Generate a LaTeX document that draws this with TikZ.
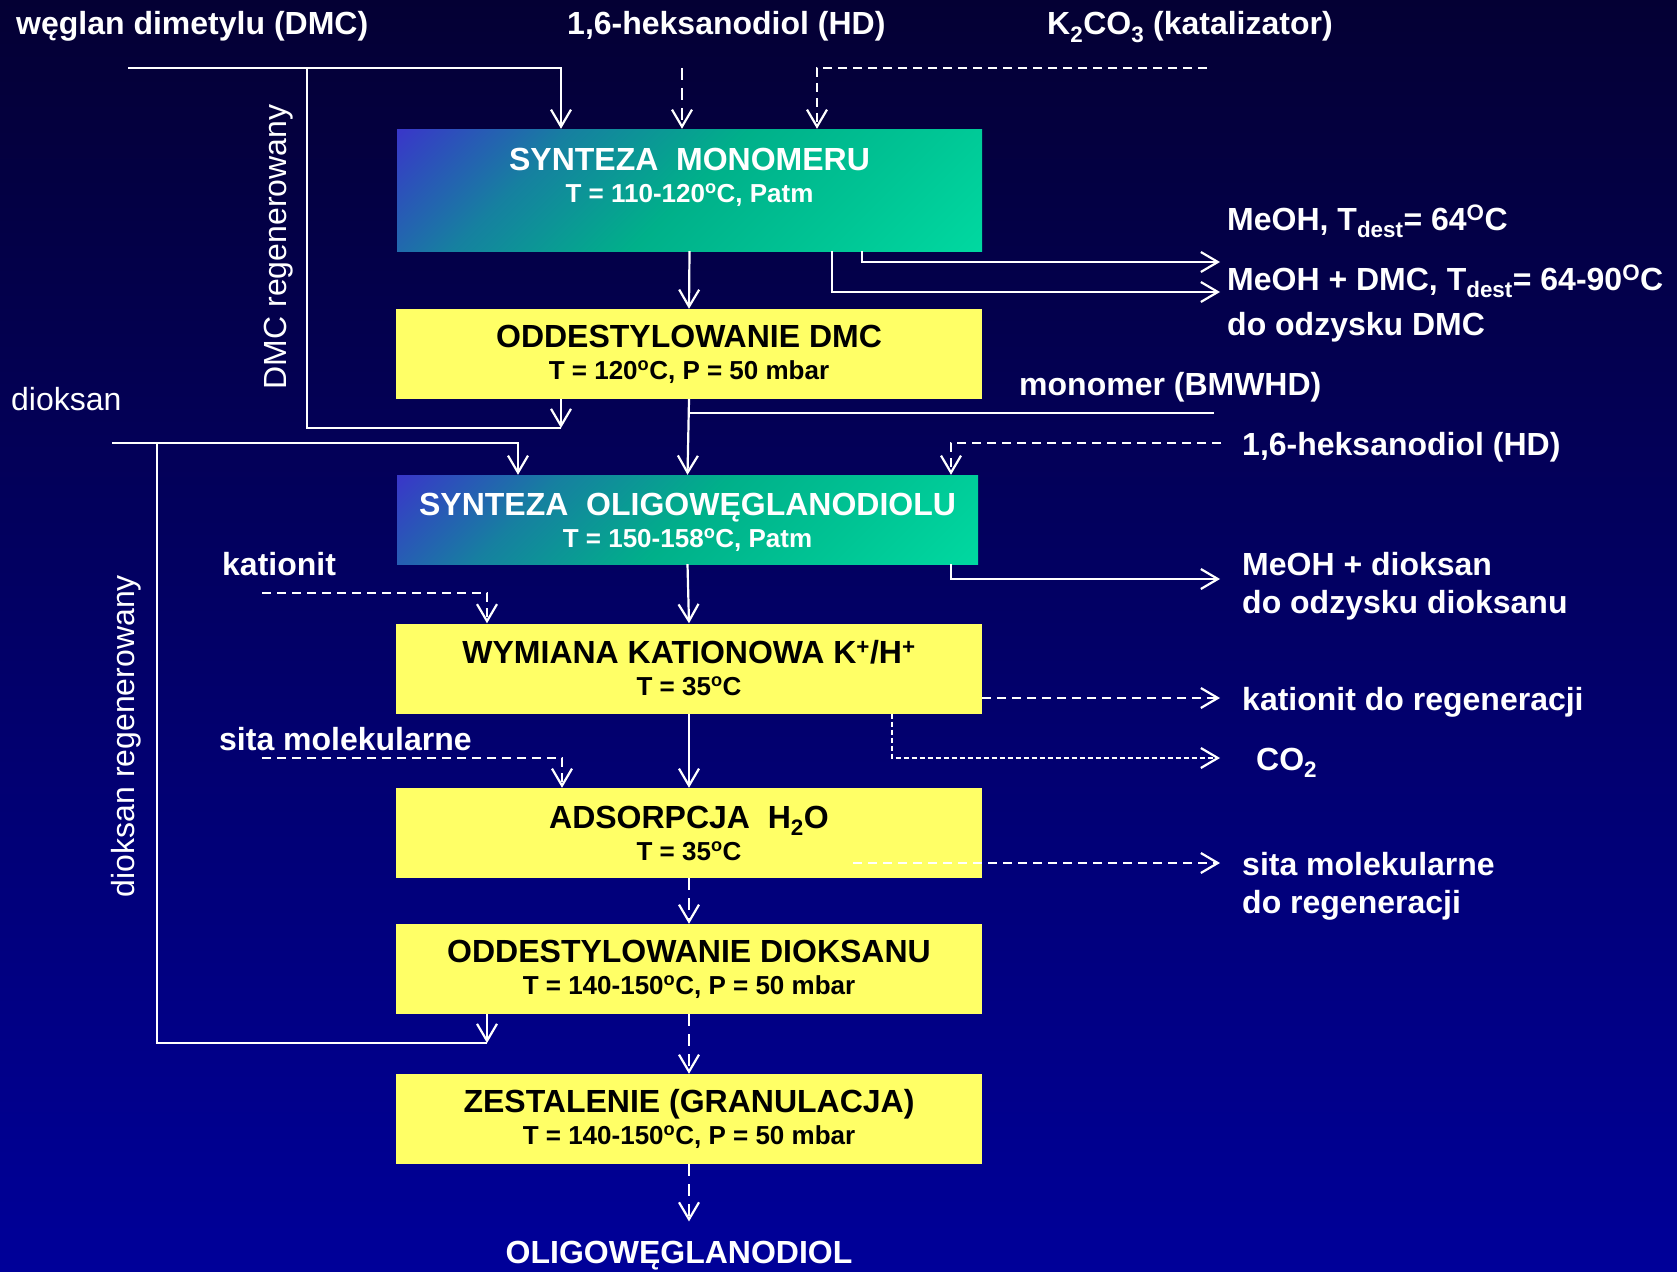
\documentclass[tikz,border=0pt]{standalone}
\usepackage{fontspec}
\setmainfont{Liberation Sans}
\usetikzlibrary{arrows.meta}
\definecolor{bgtop}{RGB}{4,0,52}
\definecolor{bgbot}{RGB}{0,0,153}
\definecolor{boxy}{RGB}{255,255,102}
\definecolor{gA}{RGB}{0,216,160}
\definecolor{gB}{RGB}{0,196,148}
\definecolor{gC}{RGB}{0,176,138}
\definecolor{gD}{RGB}{22,128,160}
\definecolor{gE}{RGB}{56,56,200}
\pgfdeclareverticalshading{tealgrad}{100bp}{color(0bp)=(gA); color(15bp)=(gA); color(32bp)=(gB); color(50bp)=(gC); color(68bp)=(gD); color(85bp)=(gE); color(100bp)=(gE)}
\newcommand\boxtitle[1]{{\fontsize{32}{32}\selectfont #1}}
\begin{document}
\begin{tikzpicture}[x=1pt,y=-1pt,
  ybox/.style={fill=boxy, minimum width=586pt, minimum height=90pt, inner sep=0pt,
    align=center, text=black, font=\bfseries\fontsize{26}{32}\selectfont},
  gbox/.style={shading=tealgrad, shading angle=45, inner sep=0pt},
  gtext/.style={align=center, text=white, inner sep=0pt, font=\bfseries\fontsize{26}{32}\selectfont},
  lbl/.style={text=white, inner sep=0pt, anchor=base west, font=\bfseries\fontsize{32}{38}\selectfont},
  lblr/.style={text=white, inner sep=0pt, anchor=base west, font=\fontsize{32}{38}\selectfont},
  ln/.style={draw=white, line width=2.2pt},
  arr/.style={ln, -{Straight Barb[length=17pt,width=20pt]}},
  dsh/.style={dash pattern=on 9pt off 6pt},
  ldsh/.style={dash pattern=on 12pt off 8pt},
  fdsh/.style={dash pattern=on 5pt off 3pt}
]
\shade[top color=bgtop, bottom color=bgbot] (0,0) rectangle (1677,1271);
\useasboundingbox (0,0) rectangle (1677,1271);

% boxes
\node[gbox, minimum width=585pt, minimum height=122pt] (b1) at (689.5,190) {};
\node[gtext] (b1t) at (689.5,177) {\boxtitle{SYNTEZA\ \ MONOMERU}\\T = 110-120\textsuperscript{o}C, Patm};
\node[ybox] (b2) at (689,354) {\boxtitle{ODDESTYLOWANIE DMC}\\T = 120\textsuperscript{o}C, P = 50 mbar};
\node[gbox, minimum width=581pt, minimum height=89pt] (b3) at (687.5,519.5) {};
\node[gtext] (b3t) at (687.5,522) {\boxtitle{SYNTEZA\ \ OLIGOWĘGLANODIOLU}\\T = 150-158\textsuperscript{o}C, Patm};
\node[ybox] (b4) at (689,668.5) {\boxtitle{WYMIANA KATIONOWA K\textsuperscript{+}/H\textsuperscript{+}}\\T = 35\textsuperscript{o}C};
\node[ybox] (b5) at (689,833) {\boxtitle{ADSORPCJA\ \ H\textsubscript{2}O}\\T = 35\textsuperscript{o}C};
\node[ybox] (b6) at (689,969) {\boxtitle{ODDESTYLOWANIE DIOKSANU}\\T = 140-150\textsuperscript{o}C, P = 50 mbar};
\node[ybox] (b7) at (689,1119) {\boxtitle{ZESTALENIE (GRANULACJA)}\\T = 140-150\textsuperscript{o}C, P = 50 mbar};
\node[lbl, anchor=base] (prod) at (679,1263) {OLIGOWĘGLANODIOL};

% labels
\node[lbl] (ldmc) at (16,35) {węglan dimetylu (DMC)};
\node[lbl] (lhd1) at (567,35) {1,6-heksanodiol (HD)};
\node[lbl] (lk2) at (1047,35) {K\textsubscript{2}CO\textsubscript{3} (katalizator)};
\node[lbl] (lmeoh) at (1227,230) {MeOH, T\textsubscript{dest}= 64\textsuperscript{O}C};
\node[lbl] (lmeodmc) at (1227,290) {MeOH + DMC, T\textsubscript{dest}= 64-90\textsuperscript{O}C};
\node[lbl] (lodz) at (1227,335) {do odzysku DMC};
\node[lbl] (lmon) at (1019,395) {monomer (BMWHD)};
\node[lbl] (lhd2) at (1242,455) {1,6-heksanodiol (HD)};
\node[lblr] (ldiox) at (11,410) {dioksan};
\node[lbl] (lmd) at (1242,575) {MeOH + dioksan};
\node[lbl] (lmd2) at (1242,613) {do odzysku dioksanu};
\node[lbl] (lkat) at (222,575) {kationit};
\node[lbl] (lsita) at (219,750) {sita molekularne};
\node[lbl] (lkatr) at (1242,710) {kationit do regeneracji};
\node[lbl] (lco2) at (1256,770) {CO\textsubscript{2}};
\node[lbl] (lsitr) at (1242,875) {sita molekularne};
\node[lbl] (lsitr2) at (1242,913) {do regeneracji};
\node[lblr, rotate=90, anchor=base] (ldmcreg) at (286,247) {DMC regenerowany};
\node[lblr, rotate=90, anchor=base] (ldioreg) at (134,736) {dioksan regenerowany};

% coordinates
\coordinate (dmcs) at (128,68);
\coordinate (dmct) at (561,68);
\coordinate (dmcj) at (307,68);
\coordinate (dmcr) at (561,428);
\coordinate (dmcrl) at (307,428);
\coordinate (hd1) at (682,68);
\coordinate (k2s) at (1207,68);
\coordinate (k2t) at (817,68);
\coordinate (o1) at (862,262);
\coordinate (o1e) at (1220,262);
\coordinate (o2) at (832,292);
\coordinate (o2e) at (1220,292);
\coordinate (mon) at (1214,413);
\coordinate (hd2s) at (1221,443);
\coordinate (hd2t) at (951,443);
\coordinate (dxs) at (112,443);
\coordinate (dxt) at (518,443);
\coordinate (dxj) at (157,443);
\coordinate (dxr) at (487,1043);
\coordinate (dxrl) at (157,1043);
\coordinate (o3) at (951,579);
\coordinate (o3e) at (1220,579);
\coordinate (kas) at (262,593);
\coordinate (kat) at (487,593);
\coordinate (kre) at (1220,698);
\coordinate (co) at (892,758);
\coordinate (coe) at (1220,758);
\coordinate (sis) at (262,758);
\coordinate (sit) at (562,758);
\coordinate (srs) at (853,863);
\coordinate (sre) at (1220,863);

% connectors
\draw[arr] (dmcs) -- (dmct) -- (dmct |- b1.north);
\draw[arr] (dmcr |- b2.south) -- (dmcr);
\draw[ln] (dmcr) -- (dmcrl) -- (dmcj);
\draw[arr, ldsh] (hd1) -- (hd1 |- b1.north);
\draw[arr, dsh] (k2s) -- (k2t) -- (k2t |- b1.north);
\draw[arr] (o1 |- b1.south) -- (o1) -- (o1e);
\draw[arr] (o2 |- b1.south) -- (o2) -- (o2e);
\draw[arr] (b1.south) -- (b2.north);
\draw[arr] (b2.south) -- (b3.north);
\draw[ln] (mon) -- (mon -| b2.south);
\draw[arr, dsh] (hd2s) -- (hd2t) -- (hd2t |- b3.north);
\draw[arr] (dxs) -- (dxt) -- (dxt |- b3.north);
\draw[arr] (dxr |- b6.south) -- (dxr);
\draw[ln] (dxr) -- (dxrl) -- (dxj);
\draw[arr] (o3 |- b3.south) -- (o3) -- (o3e);
\draw[arr] (b3.south) -- (b4.north);
\draw[arr, dsh] (kas) -- (kat) -- (kat |- b4.north);
\draw[arr] (b4.south) -- (b5.north);
\draw[arr, dsh] (b4.east |- kre) -- (kre);
\draw[arr, fdsh] (co |- b4.south) -- (co) -- (coe);
\draw[arr, dsh] (sis) -- (sit) -- (sit |- b5.north);
\draw[arr, ldsh] (b5.south) -- (b6.north);
\draw[arr, dsh] (srs) -- (sre);
\draw[arr, ldsh] (b6.south) -- (b7.north);
\draw[arr, ldsh, shorten >=19pt] (b7.south) -- (b7.south |- prod.north);
\end{tikzpicture}
\end{document}
